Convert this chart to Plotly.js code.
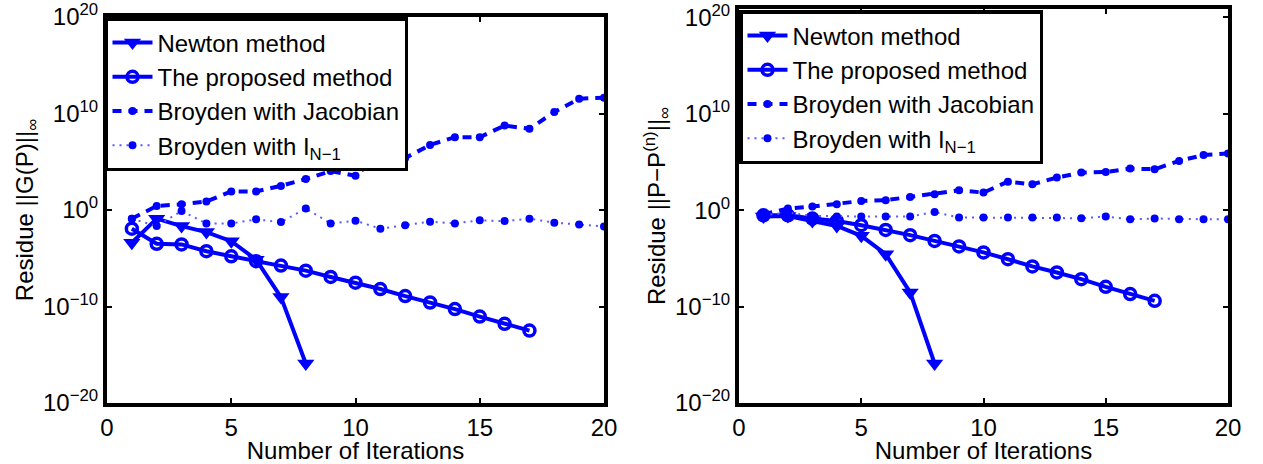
<!DOCTYPE html>
<html>
<head>
<meta charset="utf-8">
<script src="https://cdn.plot.ly/plotly-3.0.1.min.js"></script>
<style>html,body{margin:0;padding:0;background:#fff;}#chart{width:1263px;height:464px;}</style>
</head>
<body>
<div id="chart"></div>
<script>
// Iteration numbers
const iterNewton = [1,2,3,4,5,6,7,8];
const iterProposed = [1,2,3,4,5,6,7,8,9,10,11,12,13,14,15,16,17];
const iterBroyden = [1,2,3,4,5,6,7,8,9,10,11,12,13,14,15,16,17,18,19,20];

// Left panel: Residue ||G(P)||_inf
const leftNewton = [4.0e-4, 0.126, 0.0214, 5.1e-3, 5.9e-4, 7.2e-6, 9.5e-10, 1.26e-16];
const leftProposed = [1.15e-2, 3.16e-4, 2.7e-4, 5.4e-5, 1.6e-5, 4.9e-6, 1.74e-6, 5.2e-7, 1.15e-7, 2.95e-8,
                      6.5e-9, 1.2e-9, 2.6e-10, 5.4e-11, 9.1e-12, 1.6e-12, 3.2e-13];
const leftBroydenJac = [0.126, 2.6, 3.9, 7.6, 83, 83, 316, 1.6e3, 1.07e4, 3.5e3,
                        6.3e5, 2.45e5, 5.5e6, 3.5e7, 3.5e7, 5.6e8, 2.6e8, 1.4e10, 3.4e11, 4.4e11];
const leftBroydenI = [0.126, 0.0214, 0.79, 0.041, 0.041, 0.107, 0.056, 1.41, 0.041, 0.079,
                      0.0115, 0.0257, 0.062, 0.041, 0.085, 0.071, 0.126, 0.049, 0.0316, 0.02];

// Right panel: Residue ||P-P^(n)||_inf
const rightNewton = [0.224, 0.257, 0.078, 0.0234, 2.2e-3, 2.75e-5, 2.95e-9, 1.26e-16];
const rightProposed = [0.30, 0.30, 0.138, 0.078, 0.028, 9.1e-3, 2.6e-3, 6.6e-4, 1.74e-4, 4.2e-5,
                       8.3e-6, 1.48e-6, 3.5e-7, 7.1e-8, 1.12e-8, 2.0e-9, 4.0e-10];
const rightBroydenJac = [0.39, 1.5, 2.4, 4.2, 9.1, 11, 24, 46, 117, 68,
                         930, 490, 2.45e3, 8.1e3, 9.3e3, 2.1e4, 1.8e4, 1.3e5, 5.4e5, 7.6e5];
const rightBroydenI = [0.30, 0.575, 0.257, 0.224, 0.224, 0.224, 0.224, 0.66, 0.174, 0.174,
                       0.174, 0.174, 0.174, 0.148, 0.224, 0.117, 0.138, 0.117, 0.117, 0.117];

// Labels
const seriesNames = ["Newton method", "The proposed method", "Broyden with Jacobian", "Broyden with I<sub>N\u22121</sub>"];
const xTickVals = [0, 5, 10, 15, 20];
const xTickText = ["0", "5", "10", "15", "20"];
const yTickVals = [1e-20, 1e-10, 1, 1e10, 1e20];
const yTickText = ["10<sup>\u221220</sup>", "10<sup>\u221210</sup>", "10<sup>0</sup>", "10<sup>10</sup>", "10<sup>20</sup>"];
const xTitle = "Number of Iterations";
const yTitleLeft = "Residue ||G(P)||<sub>\u221e</sub>";
const yTitleRight = "Residue ||P\u2212P<sup>(n)</sup>||<sub>\u221e</sub>";

const BLUE = "#0000ff";
const FONT = "Liberation Sans, Arial, Helvetica, sans-serif";
const FS = 24;

function panelTraces(newton, proposed, jac, ident, xa, ya, leg) {
  return [
    {x: iterNewton, y: newton, xaxis: xa, yaxis: ya, legend: leg, name: seriesNames[0],
     mode: "lines+markers", line: {color: BLUE, width: 4},
     marker: {symbol: "triangle-down", size: 15, color: BLUE}},
    {x: iterProposed, y: proposed, xaxis: xa, yaxis: ya, legend: leg, name: seriesNames[1],
     mode: "lines+markers", line: {color: BLUE, width: 4},
     marker: {symbol: "circle-open", size: 11, color: BLUE, line: {width: 3.5, color: BLUE}}},
    {x: iterBroyden, y: jac, xaxis: xa, yaxis: ya, legend: leg, name: seriesNames[2],
     mode: "lines+markers", line: {color: BLUE, width: 4, dash: "9px,7px"},
     marker: {symbol: "circle", size: 8, color: BLUE}},
    {x: iterBroyden, y: ident, xaxis: xa, yaxis: ya, legend: leg, name: seriesNames[3],
     mode: "lines+markers", line: {color: "#5a5aff", width: 2, dash: "2px,5px"},
     marker: {symbol: "circle", size: 8, color: BLUE}}
  ];
}

const data = [].concat(
  panelTraces(leftNewton, leftProposed, leftBroydenJac, leftBroydenI, "x", "y", "legend"),
  panelTraces(rightNewton, rightProposed, rightBroydenJac, rightBroydenI, "x2", "y2", "legend2")
);

function xAxis(domain, anchor) {
  return {domain: domain, anchor: anchor, range: [0, 20], tickmode: "array",
    tickvals: xTickVals, ticktext: xTickText, ticks: "inside", ticklen: 5, tickwidth: 2,
    tickcolor: "#000", showline: true, linecolor: "#000", linewidth: 4, mirror: "ticks",
    showgrid: false, zeroline: false, tickfont: {family: FONT, size: FS, color: "#000"},
    title: {text: xTitle, font: {family: FONT, size: FS, color: "#000"}, standoff: 3}};
}
function yAxis(domain, anchor, range, titleText) {
  return {domain: domain, anchor: anchor, type: "log", range: range, tickmode: "array",
    tickvals: yTickVals, ticktext: yTickText, ticks: "inside", ticklen: 5, tickwidth: 2,
    tickcolor: "#000", showline: true, linecolor: "#000", linewidth: 4, mirror: "ticks",
    showgrid: false, zeroline: false, tickfont: {family: FONT, size: FS, color: "#000"},
    title: {text: titleText, font: {family: FONT, size: FS, color: "#000"}, standoff: 4}};
}

function legendCfg(x, y) {
  return {x: x, y: y, xref: "paper", yref: "paper", xanchor: "left", yanchor: "top",
    bgcolor: "#fff", bordercolor: "#000", borderwidth: 3.5, itemwidth: 40,
    font: {family: FONT, size: FS, color: "#000"}, tracegroupgap: 0, traceorder: "normal"};
}

const W = 1263, H = 464;
const layout = {
  width: W, height: H, margin: {l: 0, r: 0, t: 0, b: 0},
  paper_bgcolor: "#fff", plot_bgcolor: "#fff", showlegend: true,
  xaxis: xAxis([107 / W, 604 / W], "y"),
  yaxis: yAxis([1 - 403 / H, 1 - 17 / H], "x", [-20, 20], yTitleLeft),
  xaxis2: xAxis([739 / W, 1228 / W], "y2"),
  yaxis2: yAxis([1 - 403 / H, 1 - 9 / H], "x2", [-20, 20.88], yTitleRight),
  legend: legendCfg(104 / W, 1 - 17 / H),
  legend2: legendCfg(739 / W, 1 - 10 / H)
};

Plotly.newPlot("chart", data, layout, {staticPlot: true, displayModeBar: false});
</script>
</body>
</html>
